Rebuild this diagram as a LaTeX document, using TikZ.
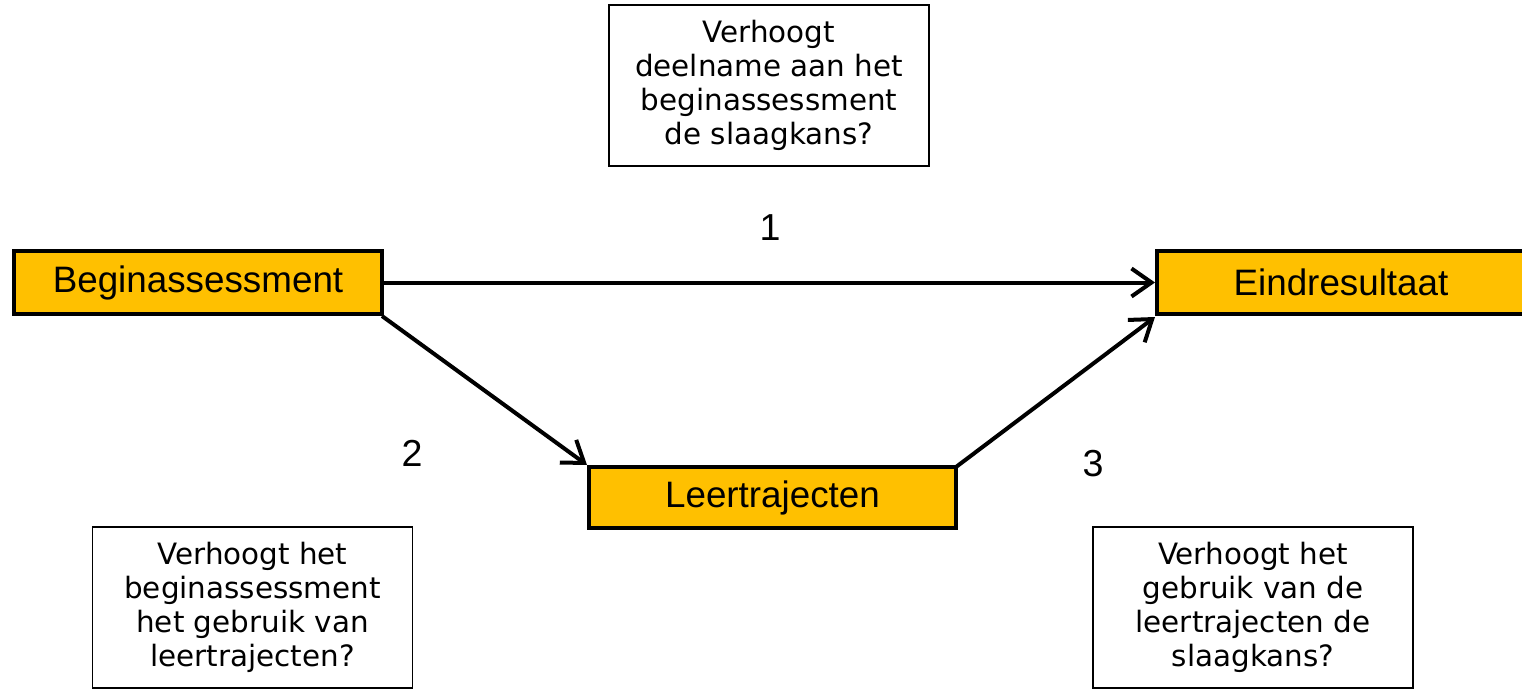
\documentclass[tikz,border=0pt]{standalone}
\usepackage{fontspec}
\setmainfont{Liberation Sans}
\newfontfamily\arialf{Liberation Sans}
\newfontfamily\verdf{DejaVu Sans}
\usetikzlibrary{arrows.meta}
\definecolor{boxorange}{HTML}{FFC000}
\tikzset{
  orangebox/.style={draw=black, line width=2pt, fill=boxorange, inner sep=0pt, outer sep=0pt,
    minimum width=184pt, font=\arialf\fontsize{18.4}{22}\selectfont},
  qbox/.style={draw=black, line width=0.8pt, fill=white, inner sep=0pt, outer sep=0pt,
    minimum width=160pt, minimum height=80.5pt, align=center,
    font=\verdf\fontsize{14.7}{17}\selectfont},
  numlabel/.style={font=\arialf\fontsize{18.8}{22}\selectfont, inner sep=0pt},
  conn/.style={line width=2pt, -{Straight Barb[length=10pt,width=14pt]}}
}
\begin{document}
\begin{tikzpicture}[x=0.5pt,y=-0.5pt]
\useasboundingbox (0,0) rectangle (1522,690);
\clip (0,0) rectangle (1522,690);
\node[orangebox, minimum height=31.5pt] (B) at (198,282.5) {Beginassessment};
\node[orangebox, minimum height=31.5pt] (E) at (1341,282.5) {Eindresultaat};
\node[orangebox, minimum width=183.5pt, minimum height=30.5pt] (L) at (772.5,497.5) {Leertrajecten};
\node[qbox] (Q1) at (769,85.5) {Verhoogt\\deelname aan het\\beginassessment\\de slaagkans?};
\node[qbox] (Q2) at (252.5,607.5) {Verhoogt het\\beginassessment\\het gebruik van\\leertrajecten?};
\node[qbox] (Q3) at (1253,607.5) {Verhoogt het\\gebruik van de\\leertrajecten de\\slaagkans?};
\node[numlabel] (n1) at (770,228) {1};
\node[numlabel] (n2) at (412,453) {2};
\node[numlabel] (n3) at (1093,463.5) {3};
\draw[conn] (B.east) -- ([xshift=-1pt]E.west);
\draw[conn] ([yshift=-1pt]B.south east) -- ([xshift=-1pt,yshift=1pt]L.north west);
\draw[conn] (L.north east) -- ([xshift=-1pt,yshift=-1.5pt]E.south west);
\end{tikzpicture}
\end{document}
